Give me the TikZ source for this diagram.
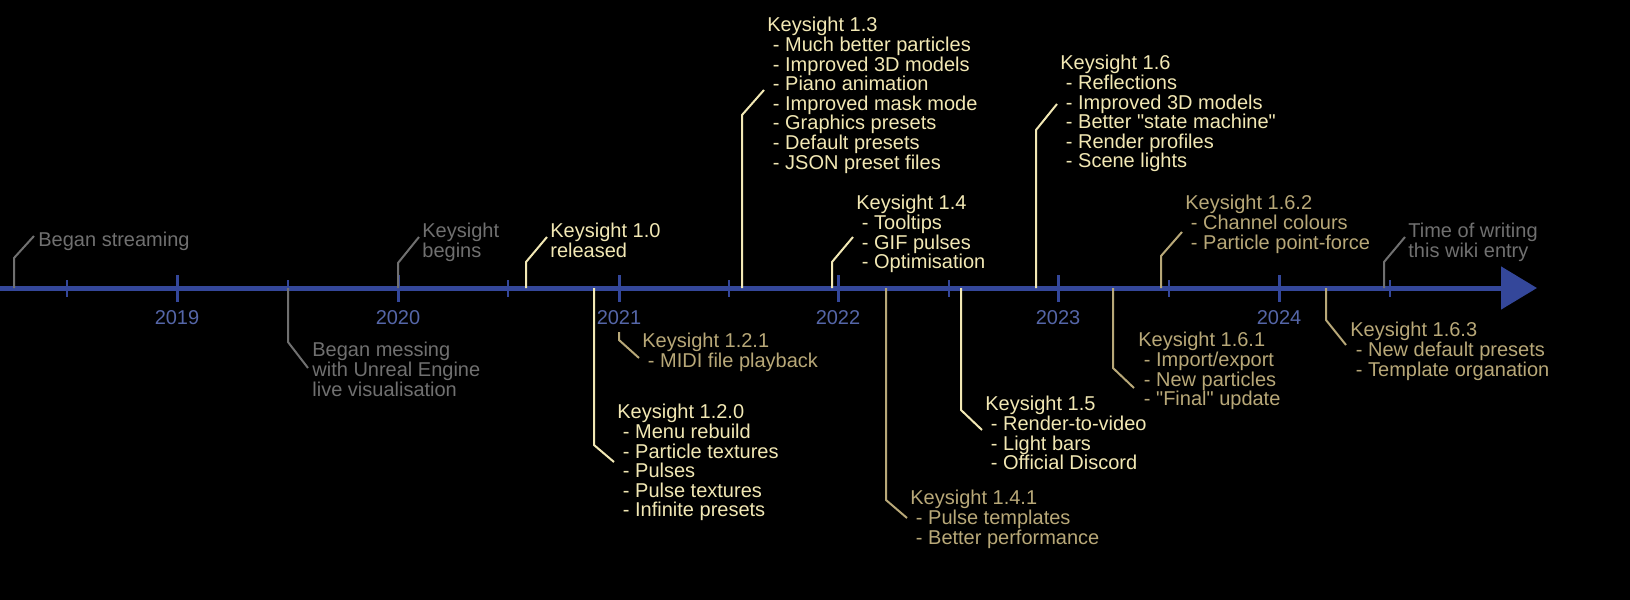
\documentclass[tikz,border=0pt]{standalone}
\usepackage{fontspec}
\defaultfontfeatures[\rmfamily]{}
\setmainfont{Liberation Sans}
\usetikzlibrary{arrows.meta}
\definecolor{axisblue}{HTML}{34479A}
\definecolor{yearblue}{HTML}{5566A8}
\definecolor{grey}{HTML}{707070}
\definecolor{tan}{HTML}{B8A878}
\definecolor{cream}{HTML}{F2E8B4}
\tikzset{
  note/.style={anchor=north west, inner sep=0pt, align=left,
               font=\fontsize{10}{9.8}\selectfont},
  lead/.style={line width=1pt},
  major/.style={axisblue, line width=1.5pt},
  minor/.style={axisblue, line width=0.8pt},
  year/.style={yearblue, font=\fontsize{10}{9.8}\selectfont},
}
\begin{document}
\begin{tikzpicture}[x=0.5pt,y=-0.5pt]
  \fill[black] (0,0) rectangle (1630,600);
  \useasboundingbox (0,0) rectangle (1630,600);

  %% Axis
  \coordinate (start) at (0,288);
  \coordinate (tip) at (1537,288);
  \draw[axisblue, line width=2.5pt, -{Triangle[length=18pt,width=21pt]}] (start) -- (tip);
  \foreach \x/\yr in {177/2019, 398/2020, 619/2021, 838/2022, 1058/2023, 1279/2024}{
    \draw[major] (\x,275) -- (\x,302);
    \node[year] (y\yr) at (\x,318) {\yr};
  }
  \foreach \x in {67, 288, 508, 729, 949, 1169, 1390}{
    \draw[minor] (\x,280) -- (\x,297);
  }

  %% Above the axis
  \node[note, grey] (stream) at (38,232) {Began streaming};
  \draw[lead, grey] (14,288) -- (14,258) -- (34,236);

  \node[note, grey] (begins) at (422,223) {Keysight\\begins};
  \draw[lead, grey] (398,288) -- (398,263) -- (419,237);

  \node[note, cream] (v10) at (550,223) {Keysight 1.0\\released};
  \draw[lead, cream] (526,288) -- (526,262) -- (547,237);

  \node[note, cream] (v13) at (767,17) {Keysight 1.3\\\ - Much better particles\\\ - Improved 3D models\\\ - Piano animation\\\ - Improved mask mode\\\ - Graphics presets\\\ - Default presets\\\ - JSON preset files};
  \draw[lead, cream] (742,288) -- (742,115) -- (764,90);

  \node[note, cream] (v14) at (856,195) {Keysight 1.4\\\ - Tooltips\\\ - GIF pulses\\\ - Optimisation};
  \draw[lead, cream] (832,288) -- (832,262) -- (853,237);

  \node[note, cream] (v16) at (1060,55) {Keysight 1.6\\\ - Reflections\\\ - Improved 3D models\\\ - Better "state machine"\\\ - Render profiles\\\ - Scene lights};
  \draw[lead, cream] (1036,288) -- (1036,130) -- (1057,104);

  \node[note, tan] (v162) at (1185,195) {Keysight 1.6.2\\\ - Channel colours\\\ - Particle point-force};
  \draw[lead, tan] (1161,288) -- (1161,256) -- (1182,232);

  \node[note, grey] (now) at (1408,223) {Time of writing\\this wiki entry};
  \draw[lead, grey] (1384,288) -- (1384,262) -- (1405,237);

  %% Below the axis
  \node[note, grey] (unreal) at (312,342) {Began messing\\with Unreal Engine\\live visualisation};
  \draw[lead, grey] (288,288) -- (288,342) -- (308,368);

  \node[note, tan] (v121) at (642,333) {Keysight 1.2.1\\\ - MIDI file playback};
  \draw[lead, tan] (619,332) -- (619,340) -- (639,358);

  \node[note, cream] (v120) at (617,404) {Keysight 1.2.0\\\ - Menu rebuild\\\ - Particle textures\\\ - Pulses\\\ - Pulse textures\\\ - Infinite presets};
  \draw[lead, cream] (594,288) -- (594,445) -- (614,462);

  \node[note, tan] (v141) at (910,490) {Keysight 1.4.1\\\ - Pulse templates\\\ - Better performance};
  \draw[lead, tan] (886,288) -- (886,500) -- (907,518);

  \node[note, cream] (v15) at (985,396) {Keysight 1.5\\\ - Render-to-video\\\ - Light bars\\\ - Official Discord};
  \draw[lead, cream] (961,288) -- (961,410) -- (982,430);

  \node[note, tan] (v161) at (1138,332) {Keysight 1.6.1\\\ - Import/export\\\ - New particles\\\ - "Final" update};
  \draw[lead, tan] (1113,288) -- (1113,368) -- (1134,388);

  \node[note, tan] (v163) at (1350,322) {Keysight 1.6.3\\\ - New default presets\\\ - Template organation};
  \draw[lead, tan] (1326,288) -- (1326,320) -- (1346,345);
\end{tikzpicture}
\end{document}
